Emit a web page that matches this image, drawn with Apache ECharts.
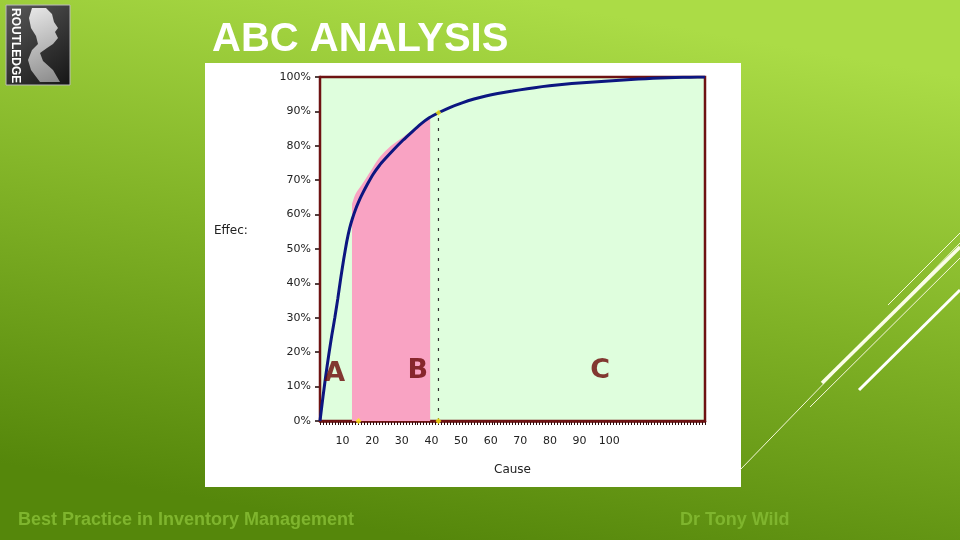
<!DOCTYPE html>
<html><head><meta charset="utf-8">
<script src="https://cdn.jsdelivr.net/npm/echarts@6/dist/echarts.min.js"></script>
<style>html,body{margin:0;padding:0;}#c{width:960px;height:540px;}</style>
</head><body><div id="c"></div>
<script>
// Data
const causeX = [0,1,2,3,4,5,6,7,8,9,10,11,12,13,14,16,18,20,22,25,28,31,34,37,40,44,48,52,56,60,65,70,75,80,85,90,95,100,105,110,115,120,125,130];
const effectY = [0,7,13.5,19.5,25,30,35.5,41.5,47,52,56,59,61.5,63.6,65.5,68.8,71.8,74.2,76.2,79,81.6,84,86.3,88.2,89.6,91.2,92.5,93.6,94.5,95.2,95.9,96.6,97.2,97.7,98.1,98.4,98.7,99.0,99.3,99.5,99.7,99.85,99.95,100];
const bandX = [10.8,12,14,17,20,24,28,32,35,37.2];
const bandY = [63,66,68.5,72.5,76.5,80,82.5,85,87,88.3];
const cutX = 40, cutY = 89.6;
const markerX = [13,40,40];
const markerY = [0,0,89.6];
const classLabels = ['A','B','C'];
const classX = [5,33,94.6];
const classY = [13.7,14.5,14.5];
const xTickLabels = [10,20,30,40,50,60,70,80,90,100];

const chart = echarts.init(document.getElementById('c'));
const maroon = '#6e1212';
const option = {
  animation: false,
  grid: {left: 320, right: 255, top: 77, bottom: 119, show: true, backgroundColor: '#dffedd', borderColor: maroon, borderWidth: 2.5, z: 1},
  xAxis: {
    type: 'value', min: 0, max: 130, interval: 10,
    axisLine: {show: true, onZero: false, lineStyle: {color: maroon, width: 2.5}},
    axisTick: {show: true, length: 4, lineStyle: {color: '#2a0a0a'}},
    minorTick: {show: true, splitNumber: 10, length: 4, lineStyle: {color: '#2a0a0a'}},
    splitLine: {show: false},
    axisLabel: {margin: 15, color: '#222', fontFamily: 'DejaVu Sans', fontSize: 11, padding: [0,14,0,0],
      formatter: v => xTickLabels.indexOf(v) >= 0 ? String(v) : ''},
    name: 'Cause', nameLocation: 'middle', nameGap: 43,
    nameTextStyle: {color: '#222', fontFamily: 'DejaVu Sans', fontSize: 12}
  },
  yAxis: {
    type: 'value', min: 0, max: 100, interval: 10,
    axisLine: {show: true, lineStyle: {color: maroon, width: 2.5}},
    axisTick: {show: true, length: 5, lineStyle: {color: '#1a0505', width: 1.5}},
    splitLine: {show: false},
    axisLabel: {margin: 9, color: '#222', fontFamily: 'DejaVu Sans', fontSize: 11, formatter: v => v + '%'}
  },
  series: [
    {
      type: 'line', data: bandX.map((x,i) => [x, bandY[i]]), symbol: 'none', smooth: 0.3,
      lineStyle: {width: 0}, areaStyle: {color: '#f9a3c3', opacity: 1}, z: 2
    },
    {
      type: 'line', data: [[cutX,0],[cutX,cutY]], symbol: 'none',
      lineStyle: {color: '#333', width: 1.2, type: [3,7]}, z: 3
    },
    {
      type: 'line', data: causeX.map((x,i) => [x, effectY[i]]), symbol: 'none', smooth: 0.15,
      lineStyle: {color: '#0c1680', width: 3}, z: 4
    },
    {
      type: 'scatter', data: markerX.map((x,i) => [x, markerY[i]]), symbol: 'diamond', symbolSize: 6,
      itemStyle: {color: '#ffee10'}, z: 5
    },
    {
      type: 'scatter', data: classX.map((x,i) => ({value: [x, classY[i]], name: classLabels[i]})),
      symbolSize: 0, z: 6,
      label: {show: true, position: 'inside', formatter: p => p.name, color: '#6a0606',
        fontFamily: 'DejaVu Sans', fontWeight: 'bold', fontSize: 27}
    }
  ],
  graphic: {elements: [
    {type: 'rect', z: -200, shape: {x: 0, y: 0, width: 960, height: 540},
     style: {fill: new echarts.graphic.LinearGradient(0.55, 0, 0.45, 1, [
       {offset: 0, color: '#abdc46'}, {offset: 0.5, color: '#80b226'}, {offset: 1, color: '#55870b'}])}},
    {type: 'rect', z: -100, shape: {x: 205, y: 63, width: 536, height: 424}, style: {fill: '#ffffff'}},
    // logo
    {type: 'rect', z: 10, shape: {x: 6, y: 5, width: 64, height: 80},
     style: {fill: new echarts.graphic.LinearGradient(0, 0, 1, 1, [
       {offset: 0, color: '#5a5a5a'}, {offset: 1, color: '#151515'}]), stroke: '#bbbbbb', lineWidth: 1}},
    {type: 'polygon', z: 11, shape: {points: [[32,8],[46,8],[52,14],[54,22],[58,28],[55,32],[58,38],[53,44],[47,48],[40,53],[43,61],[53,70],[60,82],[40,82],[31,70],[28,60],[32,50],[38,44],[36,36],[31,28],[29,18]]},
     style: {fill: new echarts.graphic.LinearGradient(0, 0, 1, 1, [
       {offset: 0, color: '#e8e8e8'}, {offset: 1, color: '#8a8a8a'}])}},
    {type: 'text', z: 12, x: 9, y: 8, rotation: -Math.PI / 2,
     style: {text: 'ROUTLEDGE', fill: '#ffffff', font: 'bold 12px "Liberation Sans Narrow", "Liberation Sans"', verticalAlign: 'bottom', align: 'left'}},
    // title
    {type: 'text', z: 10, left: 212, top: 20,
     style: {text: 'ABC ANALYSIS', fill: '#ffffff', font: 'bold 40px "Liberation Sans"'}},
    {type: 'text', z: 10, left: 214, top: 225,
     style: {text: 'Effec:', fill: '#222', font: '12px "DejaVu Sans"'}},
    // footer
    {type: 'text', z: 10, left: 18, top: 511,
     style: {text: 'Best Practice in Inventory Management', fill: '#7fb52e', font: 'bold 18px "Liberation Sans Narrow", "Liberation Sans"'}},
    {type: 'text', z: 10, left: 680, top: 511,
     style: {text: 'Dr Tony Wild', fill: '#7fb52e', font: 'bold 18px "Liberation Sans Narrow", "Liberation Sans"'}},
    // decorative lines
    {type: 'line', z: 10, shape: {x1: 740, y1: 470, x2: 960, y2: 243}, style: {stroke: '#f4f8d8', lineWidth: 1}},
    {type: 'line', z: 10, shape: {x1: 888, y1: 305, x2: 960, y2: 233}, style: {stroke: '#f4f8d8', lineWidth: 1}},
    {type: 'line', z: 10, shape: {x1: 822, y1: 383, x2: 960, y2: 247}, style: {stroke: '#fbfde8', lineWidth: 3.5}},
    {type: 'line', z: 10, shape: {x1: 810, y1: 407, x2: 960, y2: 258}, style: {stroke: '#f4f8d8', lineWidth: 1}},
    {type: 'line', z: 10, shape: {x1: 859, y1: 390, x2: 960, y2: 290}, style: {stroke: '#ffffff', lineWidth: 3}}
  ]}
};
chart.setOption(option);
</script>
</body></html>
